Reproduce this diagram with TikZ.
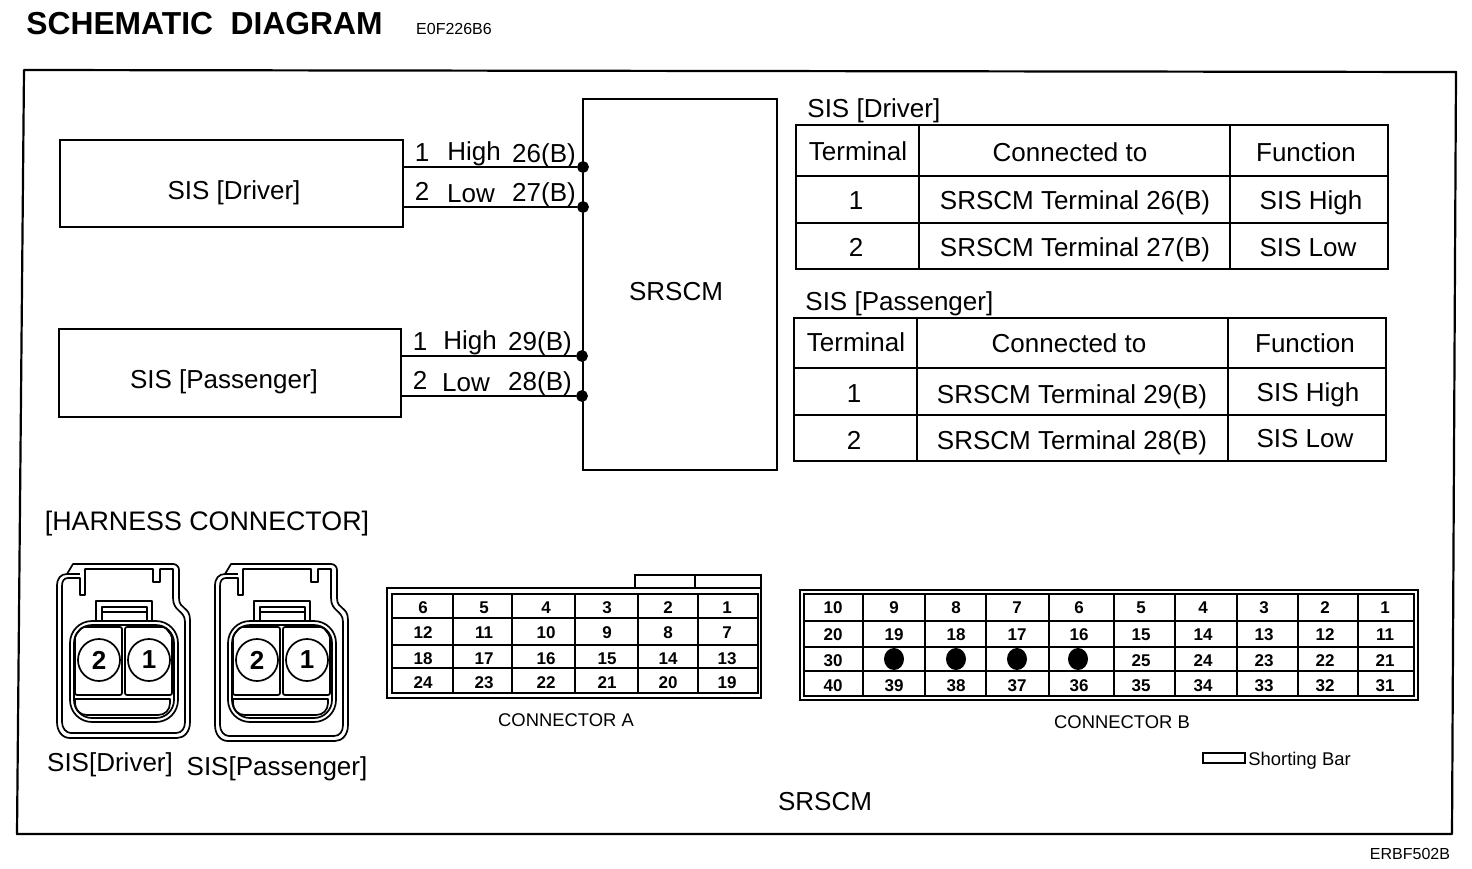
\documentclass[tikz,border=0pt]{standalone}
\usepackage{fontspec}
\setmainfont{Liberation Sans}
\usetikzlibrary{calc,positioning,shapes.geometric}
\tikzset{
    x=0.5pt,y=-0.5pt,
    frameline/.style = {line width=1.1pt,line join=round},
    sisbox/.style = {rectangle, draw, line width=1.1pt},
    point/.style = {circle, draw, fill, inner sep=0pt, minimum size=5.5pt},
    lbl/.style = {inner sep=0pt, text height=9.3pt, text depth=0pt, font=\fontsize{13}{15}\selectfont},
    capt/.style = {inner sep=0pt, text height=6.8pt, text depth=0pt, font=\fontsize{9.2}{12}\selectfont},
    num/.style = {inner sep=0pt, text height=6.2pt, text depth=0pt, font=\fontsize{8.5}{10}\selectfont\bfseries},
    tiny/.style = {inner sep=0pt, text height=5.8pt, text depth=0pt, font=\fontsize{8}{9}\selectfont},
    gridline/.style = {line width=1pt},
    plug/.style = {line width=0.85pt,line join=round},
    plugpin/.style = {circle, draw, line width=0.85pt, inner sep=0pt, minimum size=21pt, font=\fontsize{13}{15}\selectfont\bfseries},
    hole/.style = {ellipse, draw=none, fill, inner sep=0pt, minimum width=10pt, minimum height=11pt}
}
\newcommand{\sisplug}[3]{%
  \begin{scope}[shift={(#2,550)},plug]
    % outer shell
    \draw (37,24) -- (43,14) -- (143,14) to[out=0,in=90] (149,20) -- (149,48)
      .. controls (149,60) and (160,56) .. (160,70) -- (160,#3)
      .. controls (160,#3+10) and (154,#3+16) .. (147,#3+16) -- (40,#3+16)
      .. controls (32,#3+16) and (27,#3+9) .. (27,#3) -- (27,36)
      .. controls (27,28) and (31,24) .. (37,24);
    \draw (55,45) -- (50,45) -- (50,28) -- (38,28)
      .. controls (34,28) and (32,31) .. (32,36) -- (32,#3)
      .. controls (32,#3+6) and (36,#3+11) .. (41,#3+11) -- (146,#3+11)
      .. controls (152,#3+11) and (155,#3+6) .. (155,#3) -- (155,72)
      .. controls (155,60) and (143,62) .. (143,48) -- (143,19) -- (130,19) -- (130,32)
      -- (123,32) -- (123,19) -- (55,19) -- cycle;
    \draw (37,24) -- (50,24);
    % latch
    \draw (66,71) -- (66,51) -- (122,51) -- (122,71);
    \draw (72,71) -- (72,57) -- (117,57) -- (117,71);
    \draw (72,62) -- (117,62);
    % body
    \draw[rounded corners=11pt] (40,71) rectangle (148,172);
    \draw[rounded corners=9pt] (44,75) rectangle (144,168);
    \draw[rounded corners=1pt] (92,145) -- (92,77) -- (52,77) -- (45,86) -- (45,145) -- cycle;
    \draw[rounded corners=1pt] (95,145) -- (95,77) -- (135,77) -- (142,86) -- (142,145) -- cycle;
    \draw (45,149) -- (140,149) -- (140,153) .. controls (140,160) and (135,165) .. (128,165)
      -- (57,165) .. controls (50,165) and (45,160) .. (45,153) -- cycle;
    \node[plugpin] (#1two) at (69,110) {2};
    \node[plugpin] (#1one) at (119,110) {1};
  \end{scope}}

\begin{document}
\begin{tikzpicture}
    \useasboundingbox (0,0) rectangle (1472,868);

    % titles
    \node[inner sep=0pt,anchor=west,text height=11.4pt,text depth=0pt,font=\fontsize{15.9}{18}\selectfont\bfseries] (title) at (26,23) {SCHEMATIC\ \ DIAGRAM};
    \node[tiny] (code) at (454,29) {E0F226B6};
    \node[tiny] (fig) at (1410,854) {ERBF502B};
    \draw[frameline] (24,70) -- (1456,72) -- (1452,834) -- (17,834) -- cycle;

    % schematic
    \node[sisbox,minimum width=171.5pt,minimum height=43.5pt] (drv) at (231.5,183.5) {};
    \node[lbl] (drvt) at (234,190) {SIS [Driver]};
    \node[sisbox,minimum width=171pt,minimum height=44pt] (pas) at (230,373) {};
    \node[lbl] (past) at (224,379) {SIS [Passenger]};
    \node[sisbox,minimum width=97pt,minimum height=185.5pt] (scm) at (680,284.5) {};
    \node[lbl] (scmt) at (676,291) {SRSCM};

    \node[point] (d1) at (583,167) {};
    \node[point] (d2) at (583,207) {};
    \node[point] (d3) at (582,356) {};
    \node[point] (d4) at (582,396) {};
    \path[draw,frameline] (drv.east |- d1) -- (d1);
    \path[draw,frameline] (drv.east |- d2) -- (d2);
    \path[draw,frameline] (pas.east |- d3) -- (d3);
    \path[draw,frameline] (pas.east |- d4) -- (d4);

    \node[lbl] (w1) at (422,152) {1};
    \node[lbl] (w1h) at (474,151) {High};
    \node[lbl] (w1p) at (544,153) {26(B)};
    \node[lbl] (w2) at (422,191) {2};
    \node[lbl] (w2l) at (471,193) {Low};
    \node[lbl] (w2p) at (544,192) {27(B)};
    \node[lbl] (w3) at (420,341) {1};
    \node[lbl] (w3h) at (470,340) {High};
    \node[lbl] (w3p) at (540,341) {29(B)};
    \node[lbl] (w4) at (420,380) {2};
    \node[lbl] (w4l) at (466,382) {Low};
    \node[lbl] (w4p) at (540,381) {28(B)};

    % tables
    \node[lbl,anchor=west] (t1) at (807,108) {SIS [Driver]};
    \draw[gridline] (796,125) rectangle (1388,269);
    \draw[gridline] (796,176) -- (1388,176);
    \draw[gridline] (796,223) -- (1388,223);
    \draw[gridline] (919,125) -- (919,269);
    \draw[gridline] (1230,125) -- (1230,269);
    \node[lbl] (t1a) at (858,151) {Terminal};
    \node[lbl] (t1b) at (1070,152) {Connected to};
    \node[lbl] (t1c) at (1306,152) {Function};
    \node[lbl] (t1d) at (856,200) {1};
    \node[lbl] (t1e) at (1075,200) {SRSCM Terminal 26(B)};
    \node[lbl] (t1f) at (1311,200) {SIS High};
    \node[lbl] (t1g) at (856,247) {2};
    \node[lbl] (t1h) at (1075,247) {SRSCM Terminal 27(B)};
    \node[lbl] (t1i) at (1308,247) {SIS Low};

    \node[lbl,anchor=west] (t2) at (805,301) {SIS [Passenger]};
    \draw[gridline] (794,318) rectangle (1386,461);
    \draw[gridline] (794,368) -- (1386,368);
    \draw[gridline] (794,415) -- (1386,415);
    \draw[gridline] (917,318) -- (917,461);
    \draw[gridline] (1228,318) -- (1228,461);
    \node[lbl] (t2a) at (856,342) {Terminal};
    \node[lbl] (t2b) at (1069,343) {Connected to};
    \node[lbl] (t2c) at (1305,343) {Function};
    \node[lbl] (t2d) at (854,393) {1};
    \node[lbl] (t2e) at (1072,394) {SRSCM Terminal 29(B)};
    \node[lbl] (t2f) at (1308,392) {SIS High};
    \node[lbl] (t2g) at (854,440) {2};
    \node[lbl] (t2h) at (1072,440) {SRSCM Terminal 28(B)};
    \node[lbl] (t2i) at (1305,438) {SIS Low};

    % harness connectors
    \node[lbl,font=\fontsize{13.4}{15}\selectfont] (har) at (207,521) {[HARNESS CONNECTOR]};
    \sisplug{pa}{30}{172}
    \sisplug{pb}{188}{175}
    \node[lbl] (pat) at (110,762) {SIS[Driver]};
    \node[lbl] (pbt) at (277,766) {SIS[Passenger]};

    % connector A
    \draw[gridline] (387,588) rectangle (761,698);
    \draw[gridline] (392,594) rectangle (758,693);
    \draw[gridline] (635,588) -- (635,575) -- (761,575) -- (761,588);
    \draw[gridline] (695,575) -- (695,588);
    \foreach \yy in {618,645,668} \draw[gridline] (392,\yy) -- (758,\yy);
    \foreach \xx in {453,512,575,638,698} \draw[gridline] (\xx,594) -- (\xx,693);
    \foreach \yy/\d in {607/0,632/6,658/12,682/18}
      \foreach \xx/\k in {423/6,484/5,546/4,607/3,668/2,727/1} {
        \pgfmathtruncatemacro\n{\d+\k}
        \node[num] (a\n) at (\xx,\yy) {\n};
      }
    \node[capt] (acap) at (566,720) {CONNECTOR A};

    % connector B
    \draw[gridline] (800,590) rectangle (1418,700);
    \draw[gridline] (804,594) rectangle (1414,696);
    \foreach \yy in {621,647,671} \draw[gridline] (804,\yy) -- (1414,\yy);
    \foreach \xx in {863,925,986,1049,1114,1175,1237,1298,1358} \draw[gridline] (\xx,594) -- (\xx,696);
    \foreach \yy/\d in {607/0,634/10,685/30}
      \foreach \xx/\k in {833/10,894/9,956/8,1017/7,1079/6,1141/5,1203/4,1264/3,1325/2,1385/1} {
        \pgfmathtruncatemacro\n{\d+\k}
        \node[num] (b\n) at (\xx,\yy) {\n};
      }
    \foreach \xx/\k in {833/30,1141/25,1203/24,1264/23,1325/22,1385/21}
      \node[num] (b\k) at (\xx,660) {\k};
    \foreach \xx/\k in {894/29,956/28,1017/27,1078/26}
      \node[hole] (b\k) at (\xx,659) {};
    \node[capt] (bcap) at (1122,722) {CONNECTOR B};

    % shorting bar
    \node[draw,line width=0.9pt,inner sep=0pt,minimum width=21pt,minimum height=5pt] (bar) at (1224,758) {};
    \node[capt,anchor=west] (bart) at (1248,759) {Shorting Bar};

    \node[lbl] (foot) at (825,801) {SRSCM};
\end{tikzpicture}
\end{document}
